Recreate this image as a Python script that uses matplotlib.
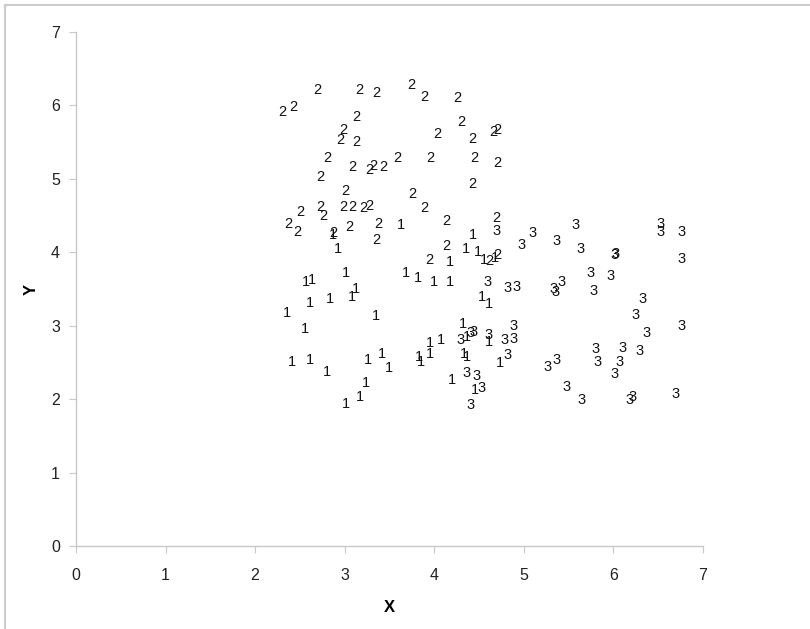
import matplotlib
matplotlib.use("Agg")
import matplotlib.pyplot as plt
from matplotlib.lines import Line2D

plt.rcParams['font.family'] = ['Liberation Sans', 'DejaVu Sans']

# group 1 points
x1 = [2.87, 3.63, 2.93, 4.43, 4.35, 4.49, 4.17, 4.55, 4.68,
      3.01, 2.57, 2.63, 3.68, 3.82, 4.00, 4.17,
      2.61, 2.83, 3.08, 3.13, 4.53, 4.61,
      2.36, 3.35, 2.56, 4.32, 4.36, 4.61, 4.08, 3.95, 3.95, 3.83, 3.85, 4.33, 4.37, 4.73,
      2.41, 2.61, 2.80, 3.26, 3.42, 3.49, 4.20, 4.45, 3.24, 3.17, 3.01]
y1 = [4.24, 4.37, 4.05, 4.23, 4.05, 4.01, 3.87, 3.89, 3.92,
      3.72, 3.59, 3.62, 3.72, 3.65, 3.59, 3.59,
      3.31, 3.36, 3.39, 3.50, 3.39, 3.30,
      3.18, 3.13, 2.95, 3.02, 2.85, 2.78, 2.81, 2.76, 2.62, 2.58, 2.51, 2.62, 2.58, 2.49,
      2.51, 2.53, 2.37, 2.53, 2.61, 2.42, 2.26, 2.12, 2.22, 2.03, 1.94]

# group 2 points
x2 = [2.69, 3.16, 3.35, 3.74, 3.89, 4.26,
      2.30, 2.43, 3.13, 4.30, 2.98, 2.95, 3.13, 4.04, 4.43, 4.66, 4.70,
      2.81, 3.08, 3.27, 3.32, 3.43, 3.59, 3.96, 4.45, 4.70,
      2.73, 4.43, 3.01, 3.75, 3.89,
      2.50, 2.73, 2.76, 2.98, 3.09, 3.21, 3.27,
      2.37, 2.47, 2.87, 3.05, 3.38, 3.35, 4.13, 4.69,
      4.14, 3.95, 4.61, 4.70]
y2 = [6.21, 6.21, 6.17, 6.28, 6.12, 6.10,
      5.91, 5.98, 5.85, 5.77, 5.67, 5.53, 5.50, 5.61, 5.54, 5.64, 5.67,
      5.28, 5.16, 5.12, 5.17, 5.16, 5.29, 5.29, 5.29, 5.22,
      5.03, 4.93, 4.84, 4.79, 4.61,
      4.55, 4.62, 4.49, 4.62, 4.62, 4.60, 4.63,
      4.39, 4.27, 4.26, 4.34, 4.39, 4.17, 4.42, 4.47,
      4.08, 3.90, 3.88, 3.96]

# group 3 points
x3 = [4.70, 4.97, 5.10, 5.58, 5.36, 5.63, 6.53, 6.53, 6.76, 6.02, 6.01, 6.76,
      5.75, 5.97, 5.33, 5.35, 5.42, 5.78, 4.60, 4.82, 4.92,
      6.33, 6.25, 6.37, 6.76,
      4.29, 4.41, 4.44, 4.61, 4.79, 4.89, 4.88, 4.82,
      5.80, 5.82, 6.10, 6.07, 6.29, 6.01, 5.27, 5.37, 5.48, 5.64, 6.18, 6.21, 6.69,
      4.36, 4.47, 4.53, 4.40]
y3 = [4.29, 4.10, 4.26, 4.37, 4.16, 4.05, 4.39, 4.27, 4.28, 3.98, 3.96, 3.91,
      3.72, 3.68, 3.50, 3.46, 3.60, 3.47, 3.60, 3.52, 3.53,
      3.36, 3.15, 2.90, 2.99,
      2.80, 2.90, 2.92, 2.87, 2.81, 2.82, 2.99, 2.60,
      2.68, 2.50, 2.69, 2.51, 2.65, 2.34, 2.44, 2.54, 2.17, 1.99, 1.99, 2.03, 2.07,
      2.35, 2.32, 2.15, 1.92]

groups = [("1", x1, y1), ("2", x2, y2), ("3", x3, y3)]

fig = plt.figure(figsize=(8.1, 6.29), dpi=100)
ax = fig.add_axes([0.0938, 0.132, 0.774, 0.817])

for lab, xs, ys in groups:
    for xv, yv in zip(xs, ys):
        ax.text(xv, yv, lab, ha='center', va='center', fontsize=10.5, color='#111111')

ax.set_xlim(0, 7)
ax.set_ylim(0, 7)
ax.set_xticks(range(8))
ax.set_yticks(range(8))
for s in ['top', 'right']:
    ax.spines[s].set_visible(False)
for s in ['left', 'bottom']:
    ax.spines[s].set_color('#c8c8c8')
    ax.spines[s].set_linewidth(1.0)
ax.tick_params(direction='out', length=5, color='#c8c8c8', labelsize=11.5,
               labelcolor='#222222')
ax.tick_params(axis='x', pad=11)
ax.tick_params(axis='y', pad=6.5)
ax.set_xlabel('X', fontsize=12, fontweight='bold', labelpad=12)
ax.set_ylabel('Y', fontsize=12, fontweight='bold', labelpad=9)

# light frame around the chart area
fig.add_artist(Line2D([5 / 810, 1], [1 - 5 / 629, 1 - 5 / 629], color='#cccccc', lw=1.5))
fig.add_artist(Line2D([5 / 810, 5 / 810], [0, 1 - 5 / 629], color='#cccccc', lw=1.5))

fig.savefig('out.png', dpi=100)
